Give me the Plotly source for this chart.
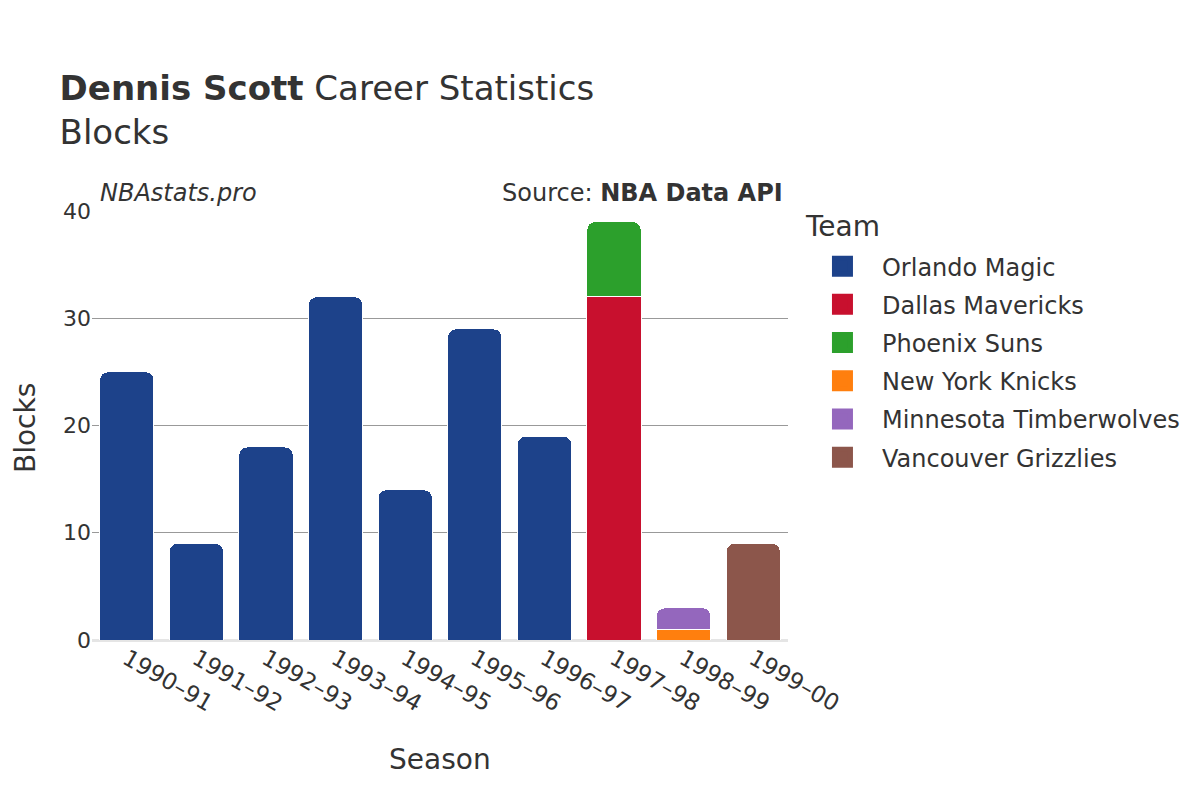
import plotly.graph_objects as go

seasons = ["1990–91", "1991–92", "1992–93", "1993–94", "1994–95", "1995–96",
           "1996–97", "1997–98", "1998–99", "1999–00"]
teams = ["Orlando Magic", "Dallas Mavericks", "Phoenix Suns", "New York Knicks",
         "Minnesota Timberwolves", "Vancouver Grizzlies"]
colors = ["#1d428a", "#c8102e", "#2ca02c", "#ff7f0e", "#9467bd", "#8c564b"]
blocks = {
    "Orlando Magic": [25, 9, 18, 32, 14, 29, 19, None, None, None],
    "Dallas Mavericks": [None, None, None, None, None, None, None, 32, None, None],
    "Phoenix Suns": [None, None, None, None, None, None, None, 7, None, None],
    "New York Knicks": [None, None, None, None, None, None, None, None, 1, None],
    "Minnesota Timberwolves": [None, None, None, None, None, None, None, None, 2, None],
    "Vancouver Grizzlies": [None, None, None, None, None, None, None, None, None, 9],
}

fig = go.Figure()
for team, col in zip(teams, colors):
    fig.add_trace(go.Bar(
        x=seasons, y=blocks[team], name=team, legendgroup=team, showlegend=False,
        marker=dict(color=col, line=dict(color="white", width=1)),
    ))
for team, col in zip(teams, colors):
    fig.add_trace(go.Scatter(
        x=[None], y=[None], mode="markers", name=team, legendgroup=team,
        marker=dict(symbol="square", size=16, color=col,
                    line=dict(color=col, width=5)),
    ))

font = "DejaVu Sans"
fig.update_layout(
    width=1200, height=800,
    barmode="stack", bargap=0.22, barcornerradius=8,
    plot_bgcolor="white", paper_bgcolor="white",
    font=dict(family=font, size=22, color="#333333"),
    margin=dict(l=84, r=420, t=203, b=168, autoexpand=False),
    title=dict(
        text="<b>Dennis Scott</b> Career Statistics<br>Blocks",
        x=0.043, xanchor="left", y=0.885, yanchor="top",
        font=dict(size=34, family=font, color="#333333"),
    ),
    xaxis=dict(
        tickangle=30, tickfont=dict(size=23), showgrid=False,
        showline=False, automargin=False,
    ),
    yaxis=dict(
        range=[0, 40], tickvals=[0, 10, 20, 30, 40], tickfont=dict(size=22),
        showgrid=True, gridcolor="#999999", gridwidth=1, automargin=False,
        zeroline=True, zerolinecolor="#e5e5e5", zerolinewidth=3,
    ),
    legend=dict(
        x=1.0215, xanchor="left", y=0.923, yanchor="top",
        font=dict(size=24), itemsizing="trace", itemwidth=69, tracegroupgap=4,
        traceorder="grouped",
    ),
    annotations=[
        dict(text="<i>NBAstats.pro</i>", xref="paper", yref="paper", x=0.008, y=1.0,
             xanchor="left", yanchor="bottom", showarrow=False, font=dict(size=24), yshift=2),
        dict(text="Source: <b>NBA Data API</b>", xref="paper", yref="paper", x=0.995, y=1.0,
             xanchor="right", yanchor="bottom", showarrow=False, font=dict(size=24), yshift=2),
        dict(text="Team", xref="paper", yref="paper", x=1.0216, y=0.9647,
             xanchor="left", yanchor="middle", showarrow=False, font=dict(size=28)),
        dict(text="Blocks", xref="paper", yref="paper", x=-0.0963, y=0.494,
             xanchor="center", yanchor="middle", textangle=-90, showarrow=False,
             font=dict(size=28)),
        dict(text="Season", xref="paper", yref="paper", x=0.5, y=-0.2797,
             xanchor="center", yanchor="middle", showarrow=False, font=dict(size=28)),
    ],
)

fig.write_html("out.html")
